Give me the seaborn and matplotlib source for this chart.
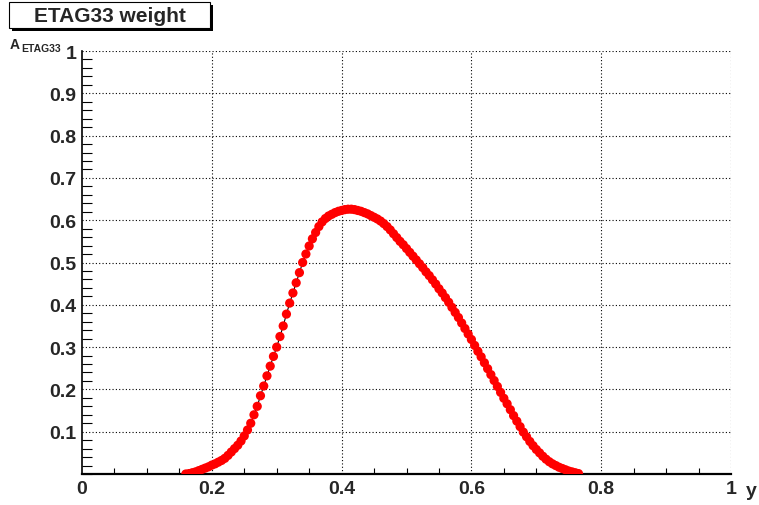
import numpy as np
import pandas as pd
import matplotlib
matplotlib.use("Agg")
import matplotlib.pyplot as plt
from matplotlib.patches import Rectangle
from matplotlib.ticker import MultipleLocator, FixedLocator
import seaborn as sns

# values (bin centres, weight)
y_vals = [0.160, 0.165, 0.170, 0.175, 0.180, 0.185, 0.190, 0.195, 0.200, 0.205,
          0.210, 0.215, 0.220, 0.225, 0.230, 0.235, 0.240, 0.245, 0.250, 0.255,
          0.260, 0.265, 0.270, 0.275, 0.280, 0.285, 0.290, 0.295, 0.300, 0.305,
          0.310, 0.315, 0.320, 0.325, 0.330, 0.335, 0.340, 0.345, 0.350, 0.355,
          0.360, 0.365, 0.370, 0.375, 0.380, 0.385, 0.390, 0.395, 0.400, 0.405,
          0.410, 0.415, 0.420, 0.425, 0.430, 0.435, 0.440, 0.445, 0.450, 0.455,
          0.460, 0.465, 0.470, 0.475, 0.480, 0.485, 0.490, 0.495, 0.500, 0.505,
          0.510, 0.515, 0.520, 0.525, 0.530, 0.535, 0.540, 0.545, 0.550, 0.555,
          0.560, 0.565, 0.570, 0.575, 0.580, 0.585, 0.590, 0.595, 0.600, 0.605,
          0.610, 0.615, 0.620, 0.625, 0.630, 0.635, 0.640, 0.645, 0.650, 0.655,
          0.660, 0.665, 0.670, 0.675, 0.680, 0.685, 0.690, 0.695, 0.700, 0.705,
          0.710, 0.715, 0.720, 0.725, 0.730, 0.735, 0.740, 0.745, 0.750, 0.755,
          0.760, 0.765]

weight = [0.000, 0.001, 0.003, 0.005, 0.008, 0.011, 0.014, 0.017, 0.021, 0.024,
          0.028, 0.032, 0.037, 0.044, 0.052, 0.060, 0.068, 0.078, 0.090, 0.104,
          0.120, 0.140, 0.160, 0.185, 0.208, 0.232, 0.255, 0.278, 0.300, 0.325,
          0.350, 0.378, 0.404, 0.428, 0.452, 0.476, 0.500, 0.520, 0.539, 0.556,
          0.571, 0.585, 0.596, 0.604, 0.610, 0.614, 0.618, 0.621, 0.623, 0.625,
          0.626, 0.626, 0.625, 0.623, 0.621, 0.618, 0.615, 0.611, 0.607, 0.603,
          0.598, 0.592, 0.585, 0.577, 0.568, 0.559, 0.550, 0.542, 0.533, 0.524,
          0.515, 0.506, 0.497, 0.488, 0.478, 0.469, 0.459, 0.449, 0.438, 0.428,
          0.417, 0.406, 0.394, 0.382, 0.370, 0.357, 0.344, 0.331, 0.318, 0.304,
          0.290, 0.277, 0.263, 0.249, 0.235, 0.221, 0.207, 0.193, 0.179, 0.166,
          0.152, 0.138, 0.125, 0.112, 0.099, 0.088, 0.077, 0.067, 0.058, 0.050,
          0.042, 0.035, 0.029, 0.024, 0.020, 0.016, 0.013, 0.010, 0.007, 0.005,
          0.003, 0.001]

x_ticks = [0, 0.2, 0.4, 0.6, 0.8, 1]
x_labels = ["0", "0.2", "0.4", "0.6", "0.8", "1"]
yax_ticks = [0.1, 0.2, 0.3, 0.4, 0.5, 0.6, 0.7, 0.8, 0.9, 1.0]
yax_labels = ["0.1", "0.2", "0.3", "0.4", "0.5", "0.6", "0.7", "0.8", "0.9", "1"]

df = pd.DataFrame({"y": y_vals, "A": weight})

sns.set_theme(style="white")
plt.rcParams["font.family"] = ["Liberation Sans", "DejaVu Sans"]

fig = plt.figure(figsize=(7.59, 5.06), dpi=100)
W, H = 759, 506
ax = fig.add_axes([82 / W, 1 - 475 / H, (731 - 82) / W, (475 - 52) / H])

sns.lineplot(data=df, x="y", y="A", ax=ax, color="black", linewidth=0.8,
             zorder=2, sort=False)
sns.scatterplot(data=df, x="y", y="A", ax=ax, color="#ff0000", s=44,
                edgecolor="none", linewidth=0, zorder=3, legend=False)

ax.set_xlim(0, 1)
ax.set_ylim(0, 1)
ax.set_xlabel("")
ax.set_ylabel("")
ax.set_facecolor("white")

# frame: solid left/bottom, dotted top/right like the grid
for side in ["top", "right"]:
    ax.spines[side].set_visible(False)
ax.spines["left"].set_color("black")
ax.spines["left"].set_linewidth(1.2)
ax.spines["bottom"].set_color("black")
ax.spines["bottom"].set_linewidth(1.6)

ax.xaxis.set_major_locator(FixedLocator(x_ticks))
ax.xaxis.set_minor_locator(MultipleLocator(0.05))
ax.yaxis.set_major_locator(FixedLocator(yax_ticks))
ax.yaxis.set_minor_locator(MultipleLocator(0.02))
ax.set_xticklabels(x_labels)
ax.set_yticklabels(yax_labels)

ax.tick_params(axis="x", which="major", direction="in", length=9, width=0.8,
               color="black", labelsize=14, pad=4)
ax.tick_params(axis="x", which="minor", direction="in", length=4.5, width=0.8,
               color="black", bottom=True)
ax.tick_params(axis="y", which="major", direction="in", length=13, width=0.8,
               color="black", labelsize=14, pad=4)
ax.tick_params(axis="y", which="minor", direction="in", length=7, width=0.8,
               color="black", left=True)
for lab in ax.get_xticklabels() + ax.get_yticklabels():
    lab.set_fontweight("bold")

# dotted grid, including the top and right edge
for xv in [0.2, 0.4, 0.6, 0.8, 1.0]:
    ax.axvline(xv, color="black", linestyle=(0, (1, 2)), linewidth=0.8, zorder=1)
for yv in yax_ticks:
    ax.axhline(yv, color="black", linestyle=(0, (1, 2)), linewidth=0.8, zorder=1)

# axis titles
fig.text(757 / W, 1 - 492 / H, "y", fontsize=14, fontweight="bold",
         ha="right", va="center")
fig.text(10 / W, 1 - 49 / H, "A", fontsize=10, fontweight="bold",
         ha="left", va="baseline")
fig.text(21 / W, 1 - 51.5 / H, "ETAG33", fontsize=7.5, fontweight="bold",
         ha="left", va="baseline")

# title box with shadow
shadow = Rectangle((12 / W, 1 - 32 / H), 201 / W, 26 / H, transform=fig.transFigure,
                   facecolor="black", edgecolor="none", zorder=5)
box = Rectangle((9 / W, 1 - 29 / H), 201 / W, 26 / H, transform=fig.transFigure,
                facecolor="white", edgecolor="black", linewidth=0.8, zorder=6)
fig.patches.extend([shadow, box])
fig.text(109.5 / W, 1 - 16 / H, "ETAG33 weight", fontsize=15, fontweight="bold",
         ha="center", va="center", zorder=7)

fig.savefig("out.png", dpi=100, facecolor="white")
